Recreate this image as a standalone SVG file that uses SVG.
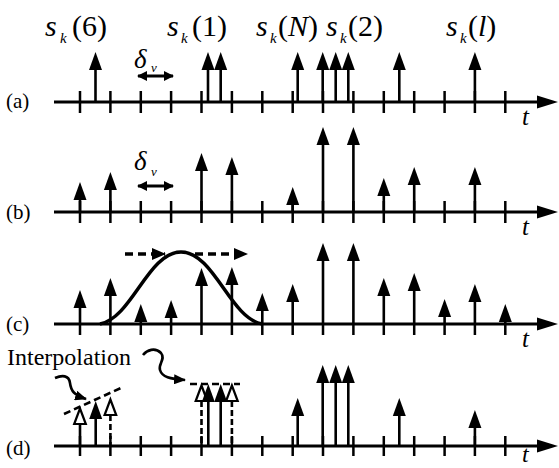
<svg xmlns="http://www.w3.org/2000/svg" width="559" height="468" viewBox="0 0 559 468">
<style>
.ax{stroke:#000;stroke-width:3;fill:none}
.tk{stroke:#000;stroke-width:2.5;fill:none}
.st{stroke:#000;stroke-width:2.6;fill:none}
.ds{stroke:#000;stroke-width:2.6;fill:none;stroke-dasharray:6 3}
.dl{stroke:#000;stroke-width:2.6;fill:none;stroke-dasharray:7 4}
text{font-family:'Liberation Serif','Times New Roman',serif;fill:#000}
.it{font-style:italic}
.big{font-size:30px}
.sub{font-size:15px;font-style:italic}
</style>
<defs>
<path id="hd" d="M0,0 L-6.5,18 L6.5,18 Z" fill="#000"/>
<path id="ho" d="M0,1.5 L-5.8,17 L5.8,17 Z" fill="#fff" stroke="#000" stroke-width="2.2"/>
<path id="axh" d="M0,0 L-21,-6.5 L-21,6.5 Z" fill="#000"/>
<marker id="sq" viewBox="0 0 12 10" refX="11" refY="5" markerWidth="12" markerHeight="10" markerUnits="userSpaceOnUse" orient="auto"><path d="M0,0 L12,5 L0,10 Z" fill="#000"/></marker>
<marker id="da" viewBox="0 0 14 12" refX="13" refY="6" markerWidth="14" markerHeight="12" markerUnits="userSpaceOnUse" orient="auto"><path d="M0,0 L14,6 L0,12 Z" fill="#000"/></marker>
<marker id="dbl" viewBox="0 0 10 10" refX="9" refY="5" markerWidth="10" markerHeight="10" markerUnits="userSpaceOnUse" orient="auto-start-reverse"><path d="M0,0 L10,5 L0,10 Z" fill="#000"/></marker>
</defs>

<!-- Labels -->
<g id="labels">
<text x="45" y="36" class="big it">s</text><text x="60" y="43" class="sub">k</text>
<text x="72" y="36" class="big">(6)</text>

<text x="167" y="36" class="big it">s</text><text x="181" y="43" class="sub">k</text>
<text x="192" y="36" class="big">(1)</text>

<text x="256" y="36" class="big it">s</text><text x="270" y="43" class="sub">k</text>
<text x="278" y="36" class="big">(<tspan class="it">N</tspan>)</text>

<text x="326" y="36" class="big it">s</text><text x="340" y="43" class="sub">k</text>
<text x="348" y="36" class="big">(2)</text>

<text x="446" y="36" class="big it">s</text><text x="460" y="43" class="sub">k</text>
<text x="468" y="36" class="big">(<tspan class="it">l</tspan>)</text>

<text x="6" y="108" font-size="21">(a)</text>
<text x="6" y="219" font-size="21">(b)</text>
<text x="6" y="331" font-size="21">(c)</text>
<text x="6" y="455" font-size="21">(d)</text>

<text x="522" y="125" font-size="25" class="it">t</text>
<text x="522" y="235" font-size="25" class="it">t</text>
<text x="522" y="347" font-size="25" class="it">t</text>
<text x="522" y="462" font-size="24" class="it">t</text>

<text x="134" y="68" font-size="27" class="it">δ</text><text x="151" y="72" font-size="13" class="it">ν</text>
<text x="134" y="170" font-size="27" class="it">δ</text><text x="151" y="176" font-size="13" class="it">ν</text>

<text x="7" y="365" font-size="24">Interpolation</text>
</g>

<!-- Row (a) -->
<g id="row-a">
<path class="ax" d="M54,102H540"/><use href="#axh" x="558" y="102"/>
<path class="tk" d="M80 91V113M110.4 91V113M140.8 91V113M171.1 91V113M201.5 91V113M231.9 91V113M262.3 91V113M292.7 91V113M323 91V113M353.4 91V113M383.8 91V113M414.2 91V113M444.6 91V113M474.9 91V113M505.3 91V113"/>
<path class="st" d="M95.5 68V102M208 68V102M220.7 68V102M297.7 68V102M322.7 68V102M335.7 68V102M348.3 68V102M399.3 68V102M474.9 68V102"/>
<use href="#hd" x="95.5" y="52"/><use href="#hd" x="208" y="52"/><use href="#hd" x="220.7" y="52"/>
<use href="#hd" x="297.7" y="52"/><use href="#hd" x="322.7" y="52"/><use href="#hd" x="335.7" y="52"/><use href="#hd" x="348.3" y="52"/>
<use href="#hd" x="399.3" y="52"/><use href="#hd" x="474.9" y="52"/>
</g>

<!-- Row (b) -->
<g id="row-b">
<path class="ax" d="M54,212H540"/><use href="#axh" x="558" y="212"/>
<path class="tk" d="M80 201V223M110.4 201V223M140.8 201V223M171.1 201V223M201.5 201V223M231.9 201V223M262.3 201V223M292.7 201V223M323 201V223M353.4 201V223M383.8 201V223M414.2 201V223M444.6 201V223M474.9 201V223M505.3 201V223"/>
<path class="st" d="M80 198V212M110.4 188V212M201.5 169V212M231.9 173V212M292.7 203V212M323 143V212M353.4 143V212M383.8 194V212M414.2 183V212M474.9 183V212"/>
<use href="#hd" x="80" y="182"/><use href="#hd" x="110.4" y="172"/><use href="#hd" x="201.5" y="153"/><use href="#hd" x="231.9" y="157"/>
<use href="#hd" x="292.7" y="187"/><use href="#hd" x="323" y="127"/><use href="#hd" x="353.4" y="127"/><use href="#hd" x="383.8" y="178"/>
<use href="#hd" x="414.2" y="167"/><use href="#hd" x="474.9" y="167"/>
</g>

<!-- Row (c) -->
<g id="row-c">
<path class="ax" d="M54,324H540"/><use href="#axh" x="558" y="324"/>
<path class="tk" d="M80 324V335M110.4 324V335M140.8 324V335M171.1 324V335M201.5 324V335M231.9 324V335M262.3 324V335M292.7 324V335M323 324V335M353.4 324V335M383.8 324V335M414.2 324V335M444.6 324V335M474.9 324V335M505.3 324V335"/>
<path class="st" d="M80 306V324M110.4 294V324M140.8 320V324M171.1 316V324M201.5 284V324M231.9 283V324M262.3 309V324M292.7 300V324M323 259V324M353.4 259V324M383.8 294V324M414.2 289V324M444.6 315V324M474.9 300V324M505.3 320V324"/>
<use href="#hd" x="80" y="290"/><use href="#hd" x="110.4" y="278"/><use href="#hd" x="140.8" y="304"/><use href="#hd" x="171.1" y="300"/>
<use href="#hd" x="201.5" y="268"/><use href="#hd" x="231.9" y="267"/><use href="#hd" x="262.3" y="293"/><use href="#hd" x="292.7" y="284"/>
<use href="#hd" x="323" y="243"/><use href="#hd" x="353.4" y="243"/><use href="#hd" x="383.8" y="278"/><use href="#hd" x="414.2" y="273"/>
<use href="#hd" x="444.6" y="299"/><use href="#hd" x="474.9" y="284"/><use href="#hd" x="505.3" y="304"/>
<path d="M100,324 C132,318 148,252 181,252 C214,252 230,318 262,324" fill="none" stroke="#000" stroke-width="3.5"/>
</g>

<!-- Row (d) -->
<g id="row-d">
<path class="ax" d="M54,446H540"/><use href="#axh" x="558" y="446"/>
<path class="tk" d="M80 436V456M110.4 436V456M140.8 436V456M171.1 436V456M201.5 436V456M231.9 436V456M262.3 436V456M292.7 436V456M323 436V456M353.4 436V456M383.8 436V456M414.2 436V456M444.6 436V456M474.9 436V456M505.3 436V456"/>
<path class="st" d="M80 424V446M95.7 417V446M208.3 400V446M220.7 400V446M297.7 414V446M322.7 381V446M335.7 381V446M348.3 381V446M399.3 414V446M474.9 426V446"/>
<path class="ds" d="M110.4 415V446M201.5 401V446M231.9 401V446"/>
<use href="#ho" x="80" y="407"/><use href="#hd" x="95.7" y="401"/><use href="#ho" x="110.4" y="398"/>
<use href="#ho" x="201.5" y="384"/><use href="#ho" x="231.9" y="384"/>
<use href="#hd" x="208.3" y="384"/><use href="#hd" x="220.7" y="384"/>
<use href="#hd" x="297.7" y="398"/><use href="#hd" x="322.7" y="365"/><use href="#hd" x="335.7" y="365"/><use href="#hd" x="348.3" y="365"/>
<use href="#hd" x="399.3" y="398"/><use href="#hd" x="474.9" y="410"/>
</g>

<!-- Connectors / annotations -->
<g id="connectors">
<path d="M138,76H173" fill="none" stroke="#000" stroke-width="2.8" marker-start="url(#dbl)" marker-end="url(#dbl)"/>
<path d="M138,186H173" fill="none" stroke="#000" stroke-width="2.8" marker-start="url(#dbl)" marker-end="url(#dbl)"/>
<path class="dl" d="M125,254H165" style="stroke-width:3.5;stroke-dasharray:8 5" marker-end="url(#da)"/>
<path class="dl" d="M195,254H247" style="stroke-width:3.5;stroke-dasharray:8 5" marker-end="url(#da)"/>
<path class="dl" d="M64,414L122,387.5"/>
<path class="dl" d="M190,384H240"/>
<path d="M55,378 C62,375 69,375 70,383 C71,391 74,395 86,399" fill="none" stroke="#000" stroke-width="2.6" marker-end="url(#sq)"/>
<path d="M143,355 C147,350 155,347 161,353 C166,359 158,364 160,370 C162,377 170,379 185,380" fill="none" stroke="#000" stroke-width="2.6" marker-end="url(#sq)"/>
</g>
</svg>
